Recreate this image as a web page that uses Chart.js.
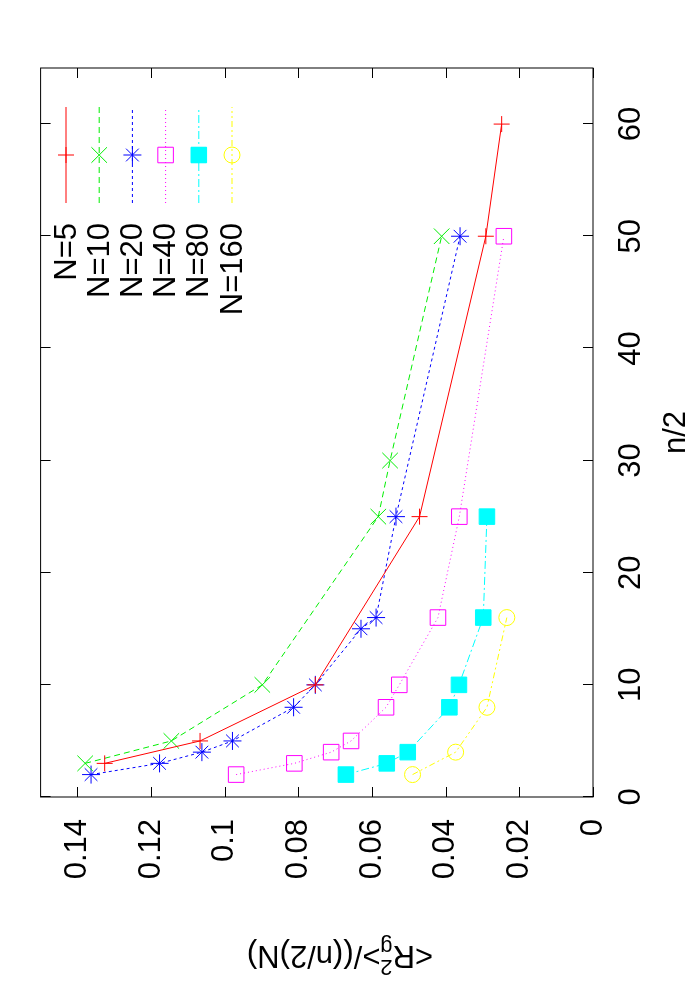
<!DOCTYPE html>
<html><head><meta charset="utf-8">
<script src="https://cdn.jsdelivr.net/npm/chart.js@4"></script>
<style>
html,body{margin:0;padding:0;background:#fff;overflow:hidden;}
#wrap{position:absolute;left:0;top:0;width:1000px;height:700px;transform-origin:0 0;transform:translate(0,1000px) rotate(-90deg);}
</style></head><body>
<div id="wrap"><canvas id="c" width="1000" height="700"></canvas></div>
<script>
const labels = ["N=5","N=10","N=20","N=40","N=80","N=160"];
const xN5 = [3,5,10,25,50,60];
const yN5 = [0.1326,0.1067,0.0754,0.0471,0.0291,0.0248];
const xN10 = [3,5,10,25,30,50];
const yN10 = [0.1379,0.1145,0.0898,0.0583,0.0551,0.0411];
const xN20 = [2,3,4,5,8,10,15,16,25,50];
const yN20 = [0.1363,0.1177,0.1062,0.0979,0.0813,0.0754,0.0630,0.0589,0.0535,0.0361];
const xN40 = [2,3,4,5,8,10,16,25,50];
const yN40 = [0.0969,0.0811,0.0711,0.0657,0.0562,0.0526,0.0421,0.0363,0.0242];
const xN80 = [2,3,4,8,10,16,25];
const yN80 = [0.0671,0.0560,0.0503,0.0390,0.0364,0.0298,0.0288];
const xN160 = [2,4,8,16];
const yN160 = [0.0490,0.0373,0.0288,0.0234];
const xTicks = [0,10,20,30,40,50,60];
const yTicks = [0,0.02,0.04,0.06,0.08,0.1,0.12,0.14];

const FONT = '"Liberation Sans", Arial, sans-serif';
const styles = [
  {c:'#ff0000', dash:[], ps:'cross', r:8, fill:false},
  {c:'#00ee00', dash:[6,4], ps:'crossRot', r:11, fill:false},
  {c:'#0000ff', dash:[3,3], ps:'star', r:9, fill:false},
  {c:'#ff00ff', dash:[1,3], ps:'rect', r:11, fill:false},
  {c:'#00ffff', dash:[8,3,2,3], ps:'rect', r:11, fill:true},
  {c:'#ffff00', dash:[6,3,2,3,2,3], ps:'circle', r:8, fill:false}
];
const xs=[xN5,xN10,xN20,xN40,xN80,xN160], ys=[yN5,yN10,yN20,yN40,yN80,yN160];
const datasets = labels.map((l,i)=>({
  label:l,
  data: xs[i].map((x,j)=>({x:x,y:ys[i][j]})),
  showLine:true, borderColor:styles[i].c, borderWidth:1, borderDash:styles[i].dash,
  pointStyle:styles[i].ps, pointRadius:styles[i].r, pointHoverRadius:styles[i].r,
  pointBorderColor:styles[i].c, pointBorderWidth:1,
  pointBackgroundColor: styles[i].fill ? styles[i].c : 'rgba(0,0,0,0)'
}));

const deco = {
  id:'deco',
  afterDraw(chart){
    const ctx=chart.ctx, a=chart.chartArea, sx=chart.scales.x, sy=chart.scales.y;
    ctx.save();
    ctx.strokeStyle='#000'; ctx.lineWidth=1; ctx.setLineDash([]);
    ctx.strokeRect(a.left,a.top,a.right-a.left,a.bottom-a.top);
    const L=10;
    ctx.beginPath();
    xTicks.forEach(v=>{const p=Math.round(sx.getPixelForValue(v))+0.5;
      ctx.moveTo(p,a.bottom);ctx.lineTo(p,a.bottom-L);ctx.moveTo(p,a.top);ctx.lineTo(p,a.top+L);});
    yTicks.forEach(v=>{const p=Math.round(sy.getPixelForValue(v))+0.5;
      ctx.moveTo(a.left,p);ctx.lineTo(a.left+L,p);ctx.moveTo(a.right,p);ctx.lineTo(a.right-L,p);});
    ctx.stroke();
    // legend
    ctx.font='31px '+FONT; ctx.textAlign='right'; ctx.textBaseline='middle'; ctx.fillStyle='#000';
    chart.data.datasets.forEach((d,i)=>{
      const yy=66+33.2*i, s=styles[i];
      ctx.fillText(d.label,777,yy+1);
      ctx.strokeStyle=s.c; ctx.lineWidth=1; ctx.setLineDash(s.dash);
      ctx.beginPath();ctx.moveTo(797,yy);ctx.lineTo(893,yy);ctx.stroke();
      ctx.setLineDash([]);
      ctx.fillStyle=s.fill?s.c:'rgba(0,0,0,0)';
      Chart.helpers.drawPoint(ctx,{pointStyle:s.ps,radius:s.r,rotation:0,borderWidth:1},845,yy);
      if(s.fill) ctx.fill();
      ctx.fillStyle='#000';
    });
    // x title
    ctx.textAlign='center'; ctx.fillText('n/2',(a.left+a.right)/2,676);
    // y title (rotated)
    ctx.translate(45,340); ctx.rotate(-Math.PI/2);
    const f1='31px '+FONT, f2='22px '+FONT;
    ctx.font=f1; const w1=ctx.measureText('<R').width, w3=ctx.measureText('>/((n/2)N)').width;
    ctx.font=f2; const w2=Math.max(ctx.measureText('2').width,ctx.measureText('g').width);
    let x0=-(w1+w2+w3)/2;
    ctx.textAlign='left';
    ctx.font=f1; ctx.fillText('<R',x0,0);
    ctx.font=f2; ctx.fillText('2',x0+w1,-11); ctx.fillText('g',x0+w1,9);
    ctx.font=f1; ctx.fillText('>/((n/2)N)',x0+w1+w2,0);
    ctx.restore();
  }
};

new Chart(document.getElementById('c'),{
  type:'scatter',
  data:{datasets},
  options:{
    responsive:false, animation:false, devicePixelRatio:1,
    layout:{padding:{top:40,right:68,left:0,bottom:0}},
    plugins:{legend:{display:false},tooltip:{enabled:false}},
    scales:{
      x:{type:'linear',min:0,max:65,
        afterBuildTicks(s){s.ticks=xTicks.map(v=>({value:v}));},
        afterFit(s){s.height=107;},
        grid:{display:false,drawTicks:false}, border:{display:false},
        ticks:{padding:20,color:'#000',font:{size:31,family:FONT},maxRotation:0}},
      y:{type:'linear',min:0,max:0.15,
        afterBuildTicks(s){s.ticks=yTicks.map(v=>({value:v}));},
        afterFit(s){s.width=203;},
        grid:{display:false,drawTicks:false}, border:{display:false},
        ticks:{padding:22,color:'#000',font:{size:31,family:FONT},callback:v=>String(+v.toFixed(2))}}
    }
  },
  plugins:[deco]
});
</script></body></html>
